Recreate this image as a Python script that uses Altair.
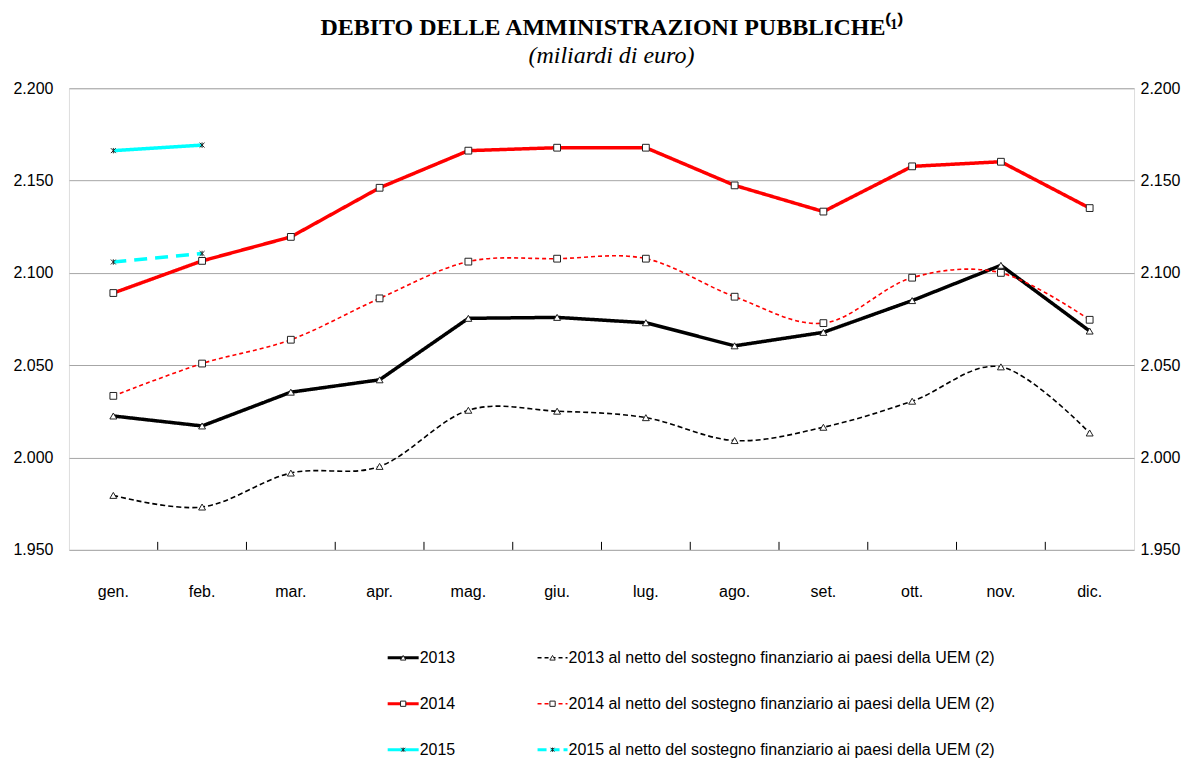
import altair as alt
import pandas as pd

# ---------------- data ----------------
months = ["gen.", "feb.", "mar.", "apr.", "mag.", "giu.", "lug.", "ago.", "set.", "ott.", "nov.", "dic."]

v2013 = [2022.5, 2017.1, 2035.4, 2042.1, 2075.4, 2075.9, 2073.0, 2060.5, 2067.8, 2085.0, 2104.1, 2068.5]
v2013_net = [1979.5, 1973.2, 1991.6, 1995.2, 2025.6, 2025.1, 2021.6, 2009.2, 2016.4, 2030.5, 2049.1, 2013.3]
v2014 = [2089.1, 2106.5, 2119.5, 2146.1, 2166.2, 2167.8, 2167.8, 2147.4, 2133.2, 2157.7, 2160.2, 2135.1]
v2014_net = [2033.4, 2050.9, 2063.8, 2086.2, 2106.1, 2107.7, 2107.7, 2087.1, 2072.8, 2097.4, 2100.0, 2074.6]
v2015 = [2166.2, 2169.2]
v2015_net = [2105.9, 2110.5]

y_ticks = [1950, 2000, 2050, 2100, 2150, 2200]

NET = " al netto del sostegno finanziario ai paesi della UEM (2)"
series_names = ["2013", "2013" + NET, "2014", "2014" + NET, "2015", "2015" + NET]
series_values = [v2013, v2013_net, v2014, v2014_net, v2015, v2015_net]

# ---------------- styles ----------------
ASTER = "M-1,-1L1,1M-1,1L1,-1M0,-1.1L0,1.1"
styles = {
    series_names[0]: dict(color="#000000", width=3.5, dash=[1, 0], shape="triangle-up", size=48, smooth=False),
    series_names[1]: dict(color="#000000", width=1.6, dash=[5, 3], shape="triangle-up", size=48, smooth=True),
    series_names[2]: dict(color="#FF0000", width=3.5, dash=[1, 0], shape="square", size=46, smooth=False),
    series_names[3]: dict(color="#FF0000", width=1.6, dash=[4, 3], shape="square", size=46, smooth=True),
    series_names[4]: dict(color="#00FFFF", width=3.5, dash=[1, 0], shape=ASTER, size=24, smooth=False),
    series_names[5]: dict(color="#00FFFF", width=3.5, dash=[13, 8], shape=ASTER, size=24, smooth=False),
}

W, H = 1066, 462
FONT = "Liberation Sans"
FS = 16

x_scale = alt.Scale(domain=months, paddingInner=0, paddingOuter=0)
y_scale = alt.Scale(domain=[1950, 2200], nice=False, zero=False)
label_expr = "replace(format(datum.value, ',.0f'), ',', '.')"

y_axis = alt.Axis(values=y_ticks, labelExpr=label_expr, grid=True, gridColor="#a6a6a6",
                  gridWidth=1, ticks=False, domain=False, labelPadding=16,
                  labelFont=FONT, labelFontSize=FS, labelColor="#000000", title=None)
x_axis = alt.Axis(labelAngle=0, ticks=False, domain=False, labelPadding=34,
                  labelFont=FONT, labelFontSize=FS, labelColor="#000000", title=None, grid=False)


def X(field="mese:N", **kw):
    return alt.X(field, scale=x_scale, sort=months, axis=x_axis, **kw)


def Y():
    return alt.Y("valore:Q", scale=y_scale, axis=y_axis)


layers = []
for name, vals in zip(series_names, series_values):
    st = styles[name]
    df = pd.DataFrame({"mese": months[: len(vals)], "valore": vals, "serie": name})
    line = alt.Chart(df).mark_line(
        color=st["color"], strokeWidth=st["width"], strokeDash=st["dash"],
        interpolate="cardinal" if st["smooth"] else "linear",
    ).encode(x=X(), y=Y())
    layers.append(line)

for name, vals in zip(series_names, series_values):
    st = styles[name]
    df = pd.DataFrame({"mese": months[: len(vals)], "valore": vals, "serie": name})
    aster = st["shape"] == ASTER
    pts = alt.Chart(df).mark_point(
        shape=st["shape"], size=st["size"], filled=False if aster else True,
        fill=None if aster else "#ffffff", stroke="#222222", strokeWidth=1, opacity=1,
    ).encode(x=X(), y=Y())
    layers.append(pts)

# inward category ticks on bottom border
tick_df = pd.DataFrame({"mese": months[1:]})
ticks = alt.Chart(tick_df).mark_rule(color="#000000", strokeWidth=1).encode(
    x=X(bandPosition=0),
    y=alt.value(H - 8), y2=alt.value(H),
)
layers.append(ticks)

main = alt.layer(*layers)

# right axis (same values)
right_df = pd.DataFrame({"valore": y_ticks})
right = alt.Chart(right_df).mark_point(opacity=0).encode(
    y=alt.Y("valore:Q", scale=alt.Scale(domain=[1950, 2200], nice=False, zero=False),
            axis=alt.Axis(orient="right", values=y_ticks, labelExpr=label_expr, grid=False, ticks=False,
                          domain=False, labelPadding=6, labelFont=FONT, labelFontSize=FS,
                          labelColor="#000000", title=None)),
)

# ---------------- legend (manual, below the plot) ----------------
leg_col = [0, 1, 0, 1, 0, 1]
leg_row = [0, 0, 1, 1, 2, 2]
col_line_start = [319, 469]
col_line_end = [350, 499]
row_y0, row_step = 570, 46

leg_rows = []
for name, c, r in zip(series_names, leg_col, leg_row):
    leg_rows.append(dict(serie=name, x0=col_line_start[c], x1=col_line_end[c],
                         xm=(col_line_start[c] + col_line_end[c]) / 2, xt=col_line_end[c] + 1,
                         y=row_y0 + r * row_step))
leg_df = pd.DataFrame(leg_rows)
lx = alt.Scale(domain=[0, W], range=[0, W], nice=False, zero=False)
ly = alt.Scale(domain=[0, H], range=[0, H], nice=False, zero=False)

leg_layers = []
for name in series_names:
    st = styles[name]
    sub = leg_df[leg_df.serie == name]
    if st["dash"] == [1, 0]:
        dash, width = [1, 0], 3
    elif st["width"] > 2:
        dash, width = [9, 4], 3
    else:
        dash, width = [4, 3], 1.4
    leg_layers.append(alt.Chart(sub).mark_rule(color=st["color"], strokeWidth=width, strokeDash=dash).encode(
        x=alt.X("x0:Q", scale=lx, axis=None), x2="x1:Q", y=alt.Y("y:Q", scale=ly, axis=None)))
for name in series_names:
    st = styles[name]
    sub = leg_df[leg_df.serie == name]
    aster = st["shape"] == ASTER
    leg_layers.append(alt.Chart(sub).mark_point(
        shape=st["shape"], size=st["size"] * 0.6, filled=False if aster else True,
        fill=None if aster else "#ffffff", stroke="#222222", strokeWidth=1, opacity=1).encode(
        x=alt.X("xm:Q", scale=lx, axis=None), y=alt.Y("y:Q", scale=ly, axis=None)))
leg_layers.append(alt.Chart(leg_df).mark_text(
    align="left", baseline="middle", font=FONT, fontSize=FS, color="#000000").encode(
    x=alt.X("xt:Q", scale=lx, axis=None), y=alt.Y("y:Q", scale=ly, axis=None), text="serie:N"))
legend = alt.layer(*leg_layers)

chart = alt.layer(main, right, legend).resolve_scale(x="independent", y="independent").properties(
    width=W, height=H,
    padding={"left": 4, "top": 8, "right": 4, "bottom": 0},
    title=alt.TitleParams(
        text="DEBITO DELLE AMMINISTRAZIONI PUBBLICHE⁽¹⁾",
        subtitle="(miliardi di euro)",
        font="Liberation Serif", fontSize=24, fontWeight="bold", color="#000000",
        subtitleFont="Liberation Serif", subtitleFontSize=24, subtitleFontStyle="italic",
        subtitleColor="#000000", subtitlePadding=4, anchor="middle", offset=12, dx=10,
    ),
).configure_view(stroke="#111111", strokeWidth=1).configure(background="#ffffff")

chart.save("out.html", embed_options={"renderer": "svg", "actions": False})
